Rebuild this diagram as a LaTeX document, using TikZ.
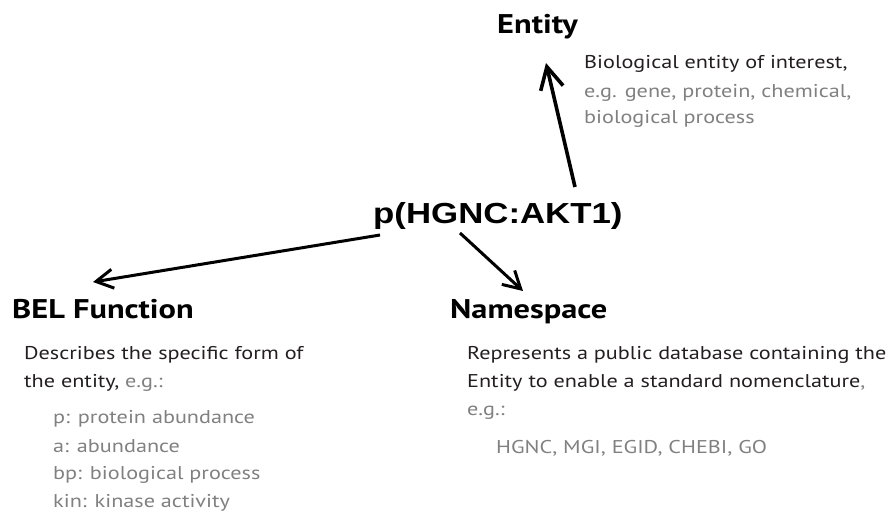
\documentclass[tikz,border=0pt]{standalone}
\usepackage{fontspec}
\setmainfont{PT Sans}
\newfontfamily\arialfont{Liberation Sans}
\usetikzlibrary{arrows.meta}
\definecolor{txt}{HTML}{231F20}
\definecolor{muted}{HTML}{808080}
\newcommand{\sx}[1]{\scalebox{1.2}[1]{#1}}
\tikzset{
  head/.style={font=\fontsize{27}{30}\selectfont\bfseries, text=black, inner sep=0pt, anchor=base west},
  desc/.style={font=\fontsize{18.5}{27}\selectfont, text=txt, inner sep=0pt, anchor=base west},
  item/.style={font=\fontsize{18.5}{27}\selectfont, text=muted, inner sep=0pt, anchor=base west},
  conn/.style={line width=3pt, -{Straight Barb[length=17pt,width=19pt,line width=3pt]}},
  bigconn/.style={line width=3.6pt, -{Straight Barb[length=22pt,width=23pt,line width=3.6pt]}},
}
\begin{document}
\begin{tikzpicture}[x=1pt,y=-1pt]
\useasboundingbox (0,0) rectangle (892,512);
\node[font=\arialfont\fontsize{29}{32}\selectfont\bfseries, inner sep=0pt, anchor=base west] (root) at (373,223) {\sx{p(HGNC:AKT1)}};
\node[head] (ent) at (497,33) {\sx{Entity}};
\node[head] (bel) at (12,318) {\sx{BEL Function}};
\node[head] (ns) at (450,318) {\sx{Namespace}};
\node[desc] (entd1) at (584,68) {\sx{Biological entity of interest,}};
\node[item] (entd2) at (584,97) {\sx{e.g. gene, protein, chemical,}};
\node[item] (entd3) at (584,123) {\sx{biological process}};
\node[desc] (beld1) at (24,359) {\sx{Describes the specific form of}};
\node[desc] (beld2) at (24,387) {\sx{the entity, \textcolor{muted}{e.g.:}}};
\node[item] (beli1) at (53,423) {\sx{p: protein abundance}};
\node[item] (beli2) at (53,452) {\sx{a: abundance}};
\node[item] (beli3) at (53,479) {\sx{bp: biological process}};
\node[item] (beli4) at (53,507) {\sx{kin: kinase activity}};
\node[desc] (nsd1) at (467,359) {\sx{Represents a public database containing the}};
\node[desc] (nsd2) at (467,387) {\sx{Entity to enable a standard nomenclature\textcolor{muted}{,}}};
\node[item] (nsd3) at (467,415) {\sx{e.g.:}};
\node[item] (nsi1) at (496,453) {\sx{HGNC, MGI, EGID, CHEBI, GO}};
\coordinate (entS) at (575,187);
\coordinate (entT) at (546,63);
\coordinate (belS) at (380,235);
\coordinate (belT) at (93,282);
\coordinate (nsS) at (460,233);
\coordinate (nsT) at (523,291);
\draw[bigconn] (entS) -- (entT);
\draw[conn] (belS) -- (belT);
\draw[conn] (nsS) -- (nsT);
\end{tikzpicture}
\end{document}
